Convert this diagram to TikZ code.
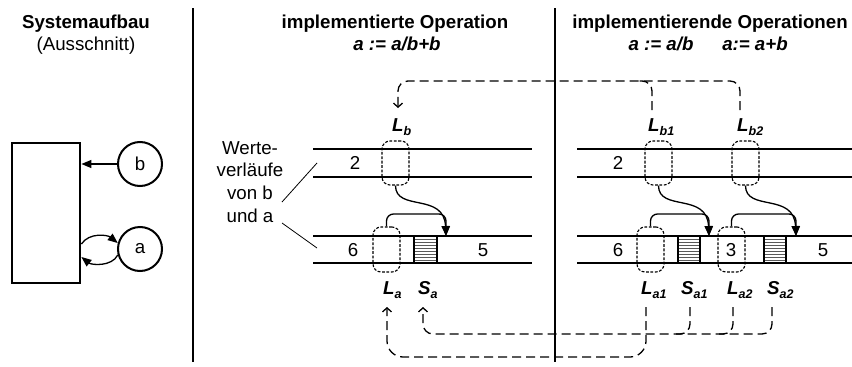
\documentclass[tikz,border=0pt]{standalone}
\usepackage{fontspec}
\setmainfont{Liberation Sans}
\usetikzlibrary{arrows.meta}
% operand label with a lowered subscript, e.g. L_b1
\newcommand\opsig[2]{\textbf{\textit{#1}}\raisebox{-4.5pt}{\fontsize{12.5}{12.5}\selectfont\bfseries\itshape #2}}
\begin{document}
\begin{tikzpicture}[x=1pt,y=-1pt,
  txt/.style={font=\fontsize{18.7}{22.7}\selectfont, inner sep=0pt},
  ttl/.style={font=\fontsize{18.7}{22.7}\selectfont\bfseries, inner sep=0pt, anchor=base},
  frm/.style={font=\fontsize{18.7}{22.7}\selectfont\bfseries\itshape, inner sep=0pt, anchor=base},
  lbl/.style={font=\fontsize{18.7}{22.7}\selectfont, inner sep=0pt, anchor=base west},
  divider/.style={line width=1.6pt},
  trace/.style={line width=1.8pt},
  probe/.style={draw, line width=1.1pt, dash pattern=on 2.8pt off 1.6pt, rounded corners=8pt, inner sep=0pt},
  store/.style={draw, line width=1.1pt, fill=white, inner sep=0pt, minimum height=27pt,
    path picture={\foreach \k in {1,...,8}{\draw[line width=0.7pt, black!65]
      ([yshift=\k*3pt]path picture bounding box.south west) -- ([yshift=\k*3pt]path picture bounding box.south east);}}},
  flow/.style={line width=1.3pt, -{Triangle[length=10pt,width=8pt]}},
  link/.style={line width=1.3pt, dash pattern=on 9pt off 5pt, -{Straight Barb[length=4pt,width=9pt]}},
  linkjoin/.style={line width=1.3pt, dash pattern=on 9pt off 5pt},
  state/.style={circle, draw, line width=2pt, minimum size=44pt, inner sep=0pt, font=\fontsize{18.7}{22.7}\selectfont}]
\useasboundingbox (0,0) rectangle (852,367);

% column dividers
\draw[divider] (193,8) -- (193,362);
\draw[line width=1.3pt] (555,8) -- (555,362);

% headings
\node[ttl] (h1) at (86,28) {Systemaufbau};
\node[txt, anchor=base] (h1b) at (86,50) {(Ausschnitt)};
\node[ttl] (h2) at (395,28) {implementierte Operation};
\node[frm] (f2) at (397,50) {a := a/b+b};
\node[ttl] (h3) at (710,28) {implementierende Operationen};
\node[frm] (f3a) at (661,50) {a := a/b};
\node[frm] (f3b) at (755,50) {a:= a+b};

% system excerpt
\node[draw, line width=2.8pt, minimum width=68pt, minimum height=140pt, inner sep=0pt] (sys) at (46,213) {};
\node[state] (cb) at (140,164) {b};
\node[state] (ca) at (140,249) {a};
\draw[flow] (cb.west) -- (cb.west -| sys.east);
\draw[flow] ([yshift=-31pt]sys.east) .. controls +(8,-12) and +(-10,-8) .. (ca.165);
\draw[flow] (ca.195) .. controls +(-6,12) and +(10,8) .. ([yshift=-44pt]sys.east);

% caption of the value traces
\node[txt, align=center] (wv) at (250,182) {Werte-\\verläufe\\von b\\und a};
\coordinate (wb) at (282,202);
\coordinate (wa) at (282,223);
\coordinate (pb) at (317,163);
\coordinate (pa) at (317,248);
\draw[line width=0.8pt] (wb) -- (pb);
\draw[line width=0.8pt] (wa) -- (pa);

% value traces of b and a
\draw[trace] (313,149) -- (532,149);
\draw[trace] (313,177) -- (532,177);
\draw[trace] (313,236) -- (532,236);
\draw[trace] (313,263) -- (532,263);
\draw[trace] (577,149) -- (852,149);
\draw[trace] (577,177) -- (852,177);
\draw[trace] (577,236) -- (852,236);
\draw[trace] (577,263) -- (852,263);

% values
\node[txt] (v1) at (355,163) {2};
\node[txt] (v2) at (353,250) {6};
\node[txt] (v3) at (483,250) {5};
\node[txt] (v4) at (618,163) {2};
\node[txt] (v5) at (618,250) {6};
\node[txt] (v6) at (731,250) {3};
\node[txt] (v7) at (823,250) {5};

% read accesses
\node[probe, minimum width=27pt, minimum height=44pt] (Lb) at (395.5,163) {};
\node[probe, minimum width=27pt, minimum height=45pt] (La) at (386.5,249.5) {};
\node[probe, minimum width=27pt, minimum height=44pt] (Lb1) at (658.5,163) {};
\node[probe, minimum width=27pt, minimum height=44pt] (Lb2) at (745.5,163) {};
\node[probe, minimum width=27pt, minimum height=45pt] (La1) at (650.5,249.5) {};
\node[probe, minimum width=27pt, minimum height=45pt] (La2) at (731.5,249.5) {};

% write accesses
\node[store, minimum width=23pt] (Sa) at (425.5,249.5) {};
\node[store, minimum width=22pt] (Sa1) at (689,249.5) {};
\node[store, minimum width=22pt] (Sa2) at (775,249.5) {};

% data flow into the written value
\coordinate (tA) at (446,236);
\coordinate (tB) at (709,236);
\coordinate (tC) at (796,236);
\draw[flow] (Lb.south) .. controls (395.5,212) and (444,192) .. (tA);
\draw[flow, rounded corners=7pt] (La.north) |- ([yshift=22pt]tA) -- (tA);
\draw[flow] (Lb1.south) .. controls (658.5,212) and (707,192) .. (tB);
\draw[flow, rounded corners=7pt] (La1.north) |- ([yshift=22pt]tB) -- (tB);
\draw[flow] (Lb2.south) .. controls (745.5,212) and (794,192) .. (tC);
\draw[flow, rounded corners=7pt] (La2.north) |- ([yshift=22pt]tC) -- (tC);

% access labels
\node[lbl] (nLb) at (392,131) {\opsig{L}{b}};
\node[lbl] (nLb1) at (648,131) {\opsig{L}{b1}};
\node[lbl] (nLb2) at (737,131) {\opsig{L}{b2}};
\node[lbl] (nLa) at (383,294) {\opsig{L}{a}};
\node[lbl] (nSa) at (418,294) {\opsig{S}{a}};
\node[lbl] (nLa1) at (641,294) {\opsig{L}{a1}};
\node[lbl] (nSa1) at (681,294) {\opsig{S}{a1}};
\node[lbl] (nLa2) at (727,294) {\opsig{L}{a2}};
\node[lbl] (nSa2) at (767,294) {\opsig{S}{a2}};

% correspondence of the accesses
\coordinate (cLb) at (398,108);
\coordinate (cLb1) at (652,110);
\coordinate (cLb2) at (740,110);
\coordinate (cLa) at (387,307);
\coordinate (cSa) at (423,307);
\coordinate (cLa1) at (646,307);
\coordinate (cSa1) at (690,307);
\coordinate (cLa2) at (733,307);
\coordinate (cSa2) at (772,307);
\draw[link, rounded corners=10pt] (cLb2) -- (cLb2 |- 0,81) -- (cLb |- 0,81) -- (cLb);
\draw[linkjoin, rounded corners=10pt] (cLb1) -- (cLb1 |- 0,81) -- ([xshift=-14pt]cLb1 |- 0,81);
\draw[link, rounded corners=16pt] (cLa1) -- (cLa1 |- 0,357) -- (cLa |- 0,357) -- (cLa);
\draw[link, rounded corners=10pt] (cSa2) -- (cSa2 |- 0,334) -- (cSa |- 0,334) -- (cSa);
\draw[linkjoin, rounded corners=10pt] (cSa1) -- (cSa1 |- 0,334) -- ([xshift=-14pt]cSa1 |- 0,334);
\draw[linkjoin, rounded corners=10pt] (cLa2) -- (cLa2 |- 0,334) -- ([xshift=-14pt]cLa2 |- 0,334);
\end{tikzpicture}
\end{document}
